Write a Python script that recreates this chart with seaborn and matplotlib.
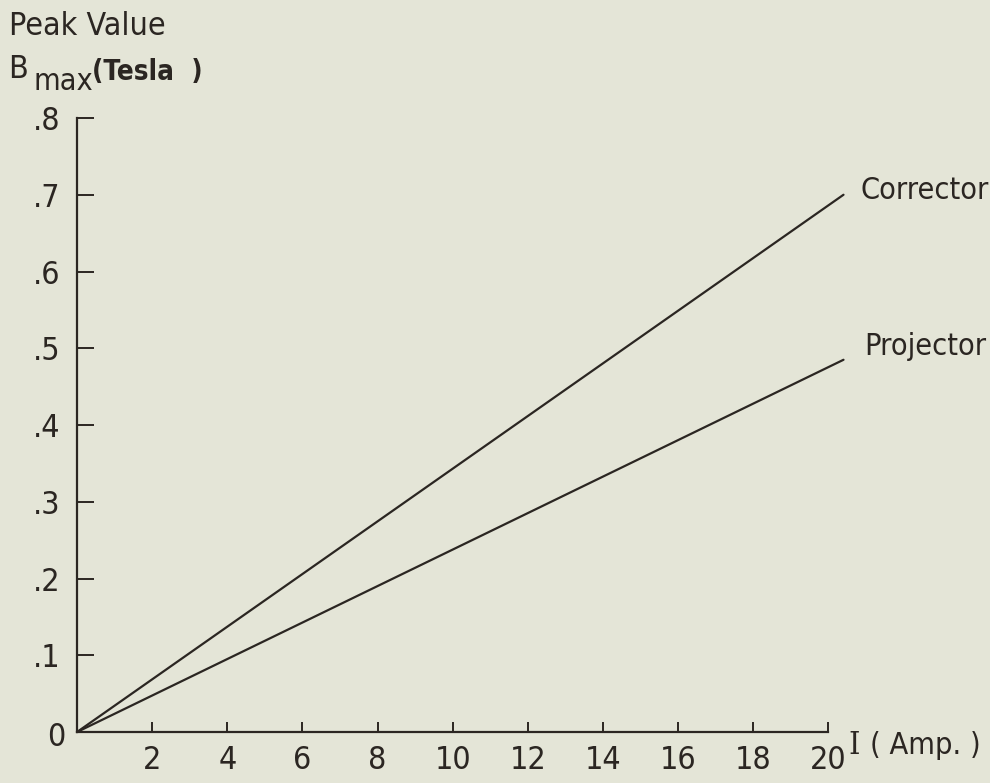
import matplotlib
matplotlib.use("Agg")
import matplotlib.pyplot as plt
import seaborn as sns
import pandas as pd

# Peak field vs. coil current for the two lenses
current = [0.0, 20.4]
corrector = [0.0, 0.70]
projector = [0.0, 0.485]
series_names = ["Corrector", "Projector"]

x_ticks = [2, 4, 6, 8, 10, 12, 14, 16, 18, 20]
y_ticks = [0.1, 0.2, 0.3, 0.4, 0.5, 0.6, 0.7, 0.8]
y_tick_labels = [".1", ".2", ".3", ".4", ".5", ".6", ".7", ".8"]

df = pd.DataFrame({
    "I": current * 2,
    "B": corrector + projector,
    "coil": [series_names[0]] * len(current) + [series_names[1]] * len(current),
})

sns.set_theme(style="white")
plt.rcParams["font.family"] = ["DejaVu Sans"]
plt.rcParams["font.stretch"] = "condensed"

bg = "#e4e5d7"
ink = "#2b2622"
FS = 23

fig = plt.figure(figsize=(9.9, 7.83), dpi=100, facecolor=bg)
ax = fig.add_axes([0.0778, 0.0651, 0.797, 0.7842])
ax.set_facecolor(bg)

sns.lineplot(data=df, x="I", y="B", hue="coil", palette=[ink, ink],
             linewidth=1.6, legend=False, ax=ax, clip_on=False)

ax.set_xlim(0, 21)
ax.set_ylim(0, 0.8)

for s in ["top", "right"]:
    ax.spines[s].set_visible(False)
for s in ["left", "bottom"]:
    ax.spines[s].set_color(ink)
    ax.spines[s].set_linewidth(1.6)
ax.spines["bottom"].set_bounds(0, 20)
ax.spines["left"].set_bounds(0, 0.8)

ax.set_xticks(x_ticks)
ax.set_xticklabels([str(t) for t in x_ticks])
ax.set_yticks(y_ticks)
ax.set_yticklabels(y_tick_labels)
ax.tick_params(axis="x", bottom=True, direction="in", length=7, width=1.4,
               color=ink, pad=9, labelsize=FS, labelcolor=ink)
ax.tick_params(axis="y", left=True, direction="in", length=12, width=1.4,
               color=ink, pad=12, labelsize=FS, labelcolor=ink)
ax.set_xlabel("")
ax.set_ylabel("")

# Origin label
ax.text(-0.3, -0.007, "0", ha="right", va="center", fontsize=FS, color=ink)

# Curve labels
ax.text(20.85, corrector[1] + 0.006, series_names[0], ha="left", va="center",
        fontsize=FS - 1, color=ink)
ax.text(20.95, projector[1] + 0.017, series_names[1], ha="left", va="center",
        fontsize=FS - 1, color=ink)

# Axis titles
fig.text(0.857, 1 - 745 / 783, "I", ha="left", va="center",
         fontsize=FS, color=ink, family="DejaVu Serif")
fig.text(0.879, 1 - 745 / 783, "( Amp. )", ha="left", va="center",
         fontsize=FS - 1, color=ink)
fig.text(0.009, 1 - 35 / 783, "Peak Value", ha="left", va="baseline",
         fontsize=FS, color=ink)
fig.text(0.008, 1 - 78 / 783, "B", ha="left", va="baseline",
         fontsize=FS, color=ink)
fig.text(0.034, 1 - 90 / 783, "max", ha="left", va="baseline",
         fontsize=FS - 1, color=ink)
fig.text(0.093, 1 - 80 / 783, "(Tesla  )", ha="left", va="baseline",
         fontsize=FS - 3, color=ink, fontweight="bold")

fig.savefig("out.png", dpi=100, facecolor=bg)
